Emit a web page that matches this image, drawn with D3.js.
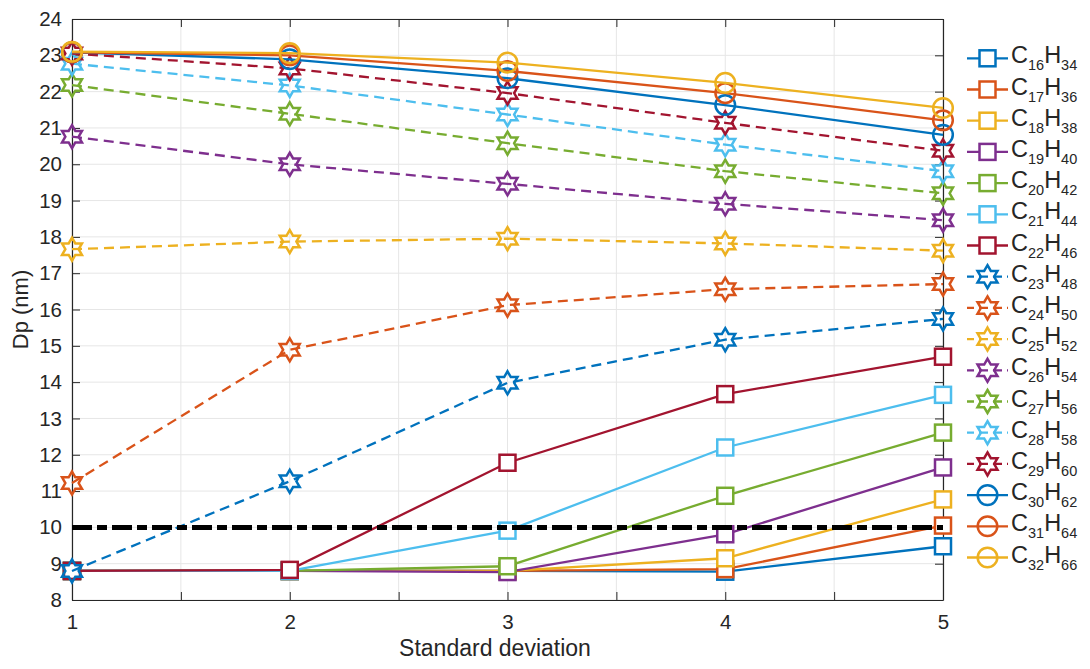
<!DOCTYPE html>
<html>
<head>
<meta charset="utf-8">
<script src="https://cdn.jsdelivr.net/npm/d3@7"></script>
<style>
  html, body { margin: 0; padding: 0; background: #fff; }
  text { font-family: "Liberation Sans", Arial, Helvetica, sans-serif; fill: #262626; }
</style>
</head>
<body>
<svg id="chart" width="1090" height="669"></svg>
<script>
// ---- data ----
const xValues = [1, 2, 3, 4, 5];
const xTicks = [1, 1.5, 2, 2.5, 3, 3.5, 4, 4.5, 5];
const xTickLabels = ["1", "", "2", "", "3", "", "4", "", "5"];
const yTicks = [8, 9, 10, 11, 12, 13, 14, 15, 16, 17, 18, 19, 20, 21, 22, 23, 24];
const carbons = [16, 17, 18, 19, 20, 21, 22, 23, 24, 25, 26, 27, 28, 29, 30, 31, 32];
const hydrogens = [34, 36, 38, 40, 42, 44, 46, 48, 50, 52, 54, 56, 58, 60, 62, 64, 66];
const C16H34 = [8.80, 8.80, 8.80, 8.78, 9.48];
const C17H36 = [8.80, 8.80, 8.80, 8.85, 10.05];
const C18H38 = [8.80, 8.80, 8.80, 9.15, 10.77];
const C19H40 = [8.80, 8.80, 8.77, 9.81, 11.65];
const C20H42 = [8.80, 8.80, 8.93, 10.87, 12.61];
const C21H44 = [8.80, 8.80, 9.91, 12.20, 13.65];
const C22H46 = [8.80, 8.83, 11.78, 13.67, 14.70];
const C23H48 = [8.80, 11.27, 13.98, 15.17, 15.74];
const C24H50 = [11.22, 14.89, 16.12, 16.56, 16.70];
const C25H52 = [17.66, 17.87, 17.95, 17.82, 17.62];
const C26H54 = [20.76, 20.00, 19.46, 18.91, 18.46];
const C27H56 = [22.18, 21.39, 20.58, 19.81, 19.20];
const C28H58 = [22.77, 22.17, 21.37, 20.54, 19.81];
const C29H60 = [23.05, 22.64, 21.96, 21.14, 20.37];
const C30H62 = [23.08, 22.89, 22.37, 21.63, 20.81];
const C31H64 = [23.08, 23.00, 22.57, 21.96, 21.21];
const C32H66 = [23.10, 23.06, 22.80, 22.24, 21.55];
const seriesValues = [C16H34, C17H36, C18H38, C19H40, C20H42, C21H44, C22H46,
  C23H48, C24H50, C25H52, C26H54, C27H56, C28H58, C29H60, C30H62, C31H64, C32H66];
const thresholdValue = 10;
const palette = ["#0072BD", "#D95319", "#EDB120", "#7E2F8E", "#77AC30", "#4DBEEE", "#A2142F"];
const markerTypes = ["square","square","square","square","square","square","square",
  "hexagram","hexagram","hexagram","hexagram","hexagram","hexagram","hexagram",
  "circle","circle","circle"];

// ---- layout ----
const svg = d3.select("#chart");
const L = 72, R = 943, T = 19, B = 600;
const x = d3.scaleLinear().domain([1, 5]).range([L, R]);
const y = d3.scaleLinear().domain([8, 24]).range([B, T]);
const LW = 2.3;

// grid
const grid = svg.append("g");
grid.selectAll("line.gx").data(xTicks).enter().append("line")
  .attr("x1", d => x(d)).attr("x2", d => x(d)).attr("y1", T).attr("y2", B)
  .attr("stroke", "#e6e6e6").attr("stroke-width", 1);
grid.selectAll("line.gy").data(yTicks).enter().append("line")
  .attr("y1", d => y(d)).attr("y2", d => y(d)).attr("x1", L).attr("x2", R)
  .attr("stroke", "#e6e6e6").attr("stroke-width", 1);

// axes (ticks inward, box on)
const tickLen = 8;
const xAxisB = d3.axisBottom(x).tickValues(xTicks).tickSizeInner(-tickLen).tickSizeOuter(0)
  .tickPadding(14).tickFormat((d, i) => xTickLabels[i]);
const xAxisT = d3.axisTop(x).tickValues(xTicks).tickSizeInner(-tickLen).tickSizeOuter(0).tickFormat("");
const yAxisL = d3.axisLeft(y).tickValues(yTicks).tickSizeInner(-tickLen).tickSizeOuter(0)
  .tickPadding(10).tickFormat(d3.format("d"));
const yAxisR = d3.axisRight(y).tickValues(yTicks).tickSizeInner(-tickLen).tickSizeOuter(0).tickFormat("");

function styleAxis(g) {
  g.select(".domain").attr("stroke", "#262626").attr("stroke-width", 1.2);
  g.selectAll(".tick line").attr("stroke", "#262626").attr("stroke-width", 1);
  g.selectAll(".tick text").attr("fill", "#262626")
    .style("font-family", '"Liberation Sans", Arial, Helvetica, sans-serif').style("font-size", "20.5px");
}
svg.append("g").attr("transform", `translate(0,${B})`).call(xAxisB).call(styleAxis);
svg.append("g").attr("transform", `translate(0,${T})`).call(xAxisT).call(styleAxis);
svg.append("g").attr("transform", `translate(${L},0)`).call(yAxisL).call(styleAxis);
svg.append("g").attr("transform", `translate(${R},0)`).call(yAxisR).call(styleAxis);

// axis labels
svg.append("text").attr("x", 495).attr("y", 656).attr("text-anchor", "middle")
  .style("font-size", "23px").text("Standard deviation");
svg.append("text").attr("transform", "translate(28,309.5) rotate(-90)").attr("text-anchor", "middle")
  .style("font-size", "22px").text("Dp (nm)");

// markers
function hexagramPath(r) {
  const ri = r / Math.sqrt(3);
  const pts = [];
  for (let k = 0; k < 12; k++) {
    const a = -Math.PI / 2 + k * Math.PI / 6;
    const rr = k % 2 === 0 ? r : ri;
    pts.push([rr * Math.cos(a), rr * Math.sin(a)]);
  }
  return "M" + pts.map(p => p[0].toFixed(2) + "," + p[1].toFixed(2)).join("L") + "Z";
}
function drawMarker(g, type, cx, cy, color) {
  if (type === "square") {
    g.append("rect").attr("x", cx - 8).attr("y", cy - 8).attr("width", 16).attr("height", 16)
      .attr("fill", "#fff").attr("stroke", color).attr("stroke-width", LW + 0.2);
  } else if (type === "circle") {
    g.append("circle").attr("cx", cx).attr("cy", cy).attr("r", 9.8)
      .attr("fill", "none").attr("stroke", color).attr("stroke-width", LW + 0.2);
  } else {
    g.append("path").attr("d", hexagramPath(11.5)).attr("transform", `translate(${cx},${cy})`)
      .attr("fill", "none").attr("stroke", color).attr("stroke-width", LW + 0.2).attr("stroke-linejoin", "miter");
  }
}

const line = d3.line().x((d, i) => x(xValues[i])).y(d => y(d));
const plot = svg.append("g");
seriesValues.forEach((vals, s) => {
  const color = palette[s % 7];
  const g = plot.append("g");
  g.append("path").attr("d", line(vals)).attr("fill", "none").attr("stroke", color)
    .attr("stroke-width", LW).attr("stroke-dasharray", markerTypes[s] === "hexagram" ? "10,6" : null);
  vals.forEach((v, i) => drawMarker(g, markerTypes[s], x(xValues[i]), y(v), color));
});

// threshold line
svg.append("line").attr("x1", x(1)).attr("x2", x(5)).attr("y1", y(thresholdValue)).attr("y2", y(thresholdValue))
  .attr("stroke", "#000").attr("stroke-width", 5).attr("stroke-dasharray", "20,5,10,5");

// legend
const legY0 = 58.3, legDy = 31.2;
const leg = svg.append("g");
carbons.forEach((c, s) => {
  const color = palette[s % 7];
  const cy = legY0 + s * legDy;
  const g = leg.append("g");
  g.append("line").attr("x1", 967).attr("x2", 1008).attr("y1", cy).attr("y2", cy)
    .attr("stroke", color).attr("stroke-width", LW)
    .attr("stroke-dasharray", markerTypes[s] === "hexagram" ? "9,5" : null)
    .attr("stroke-dashoffset", markerTypes[s] === "hexagram" ? 2 : null);
  drawMarker(g, markerTypes[s], 987.5, cy, color);
  const t = g.append("text").attr("x", 1011).attr("y", cy + 5).style("font-size", "23.5px");
  t.append("tspan").text("C");
  t.append("tspan").attr("dy", 7).style("font-size", "14.5px").text(String(c));
  t.append("tspan").attr("dy", -7).text("H");
  t.append("tspan").attr("dy", 7).style("font-size", "14.5px").text(String(hydrogens[s]));
});
</script>
</body>
</html>
